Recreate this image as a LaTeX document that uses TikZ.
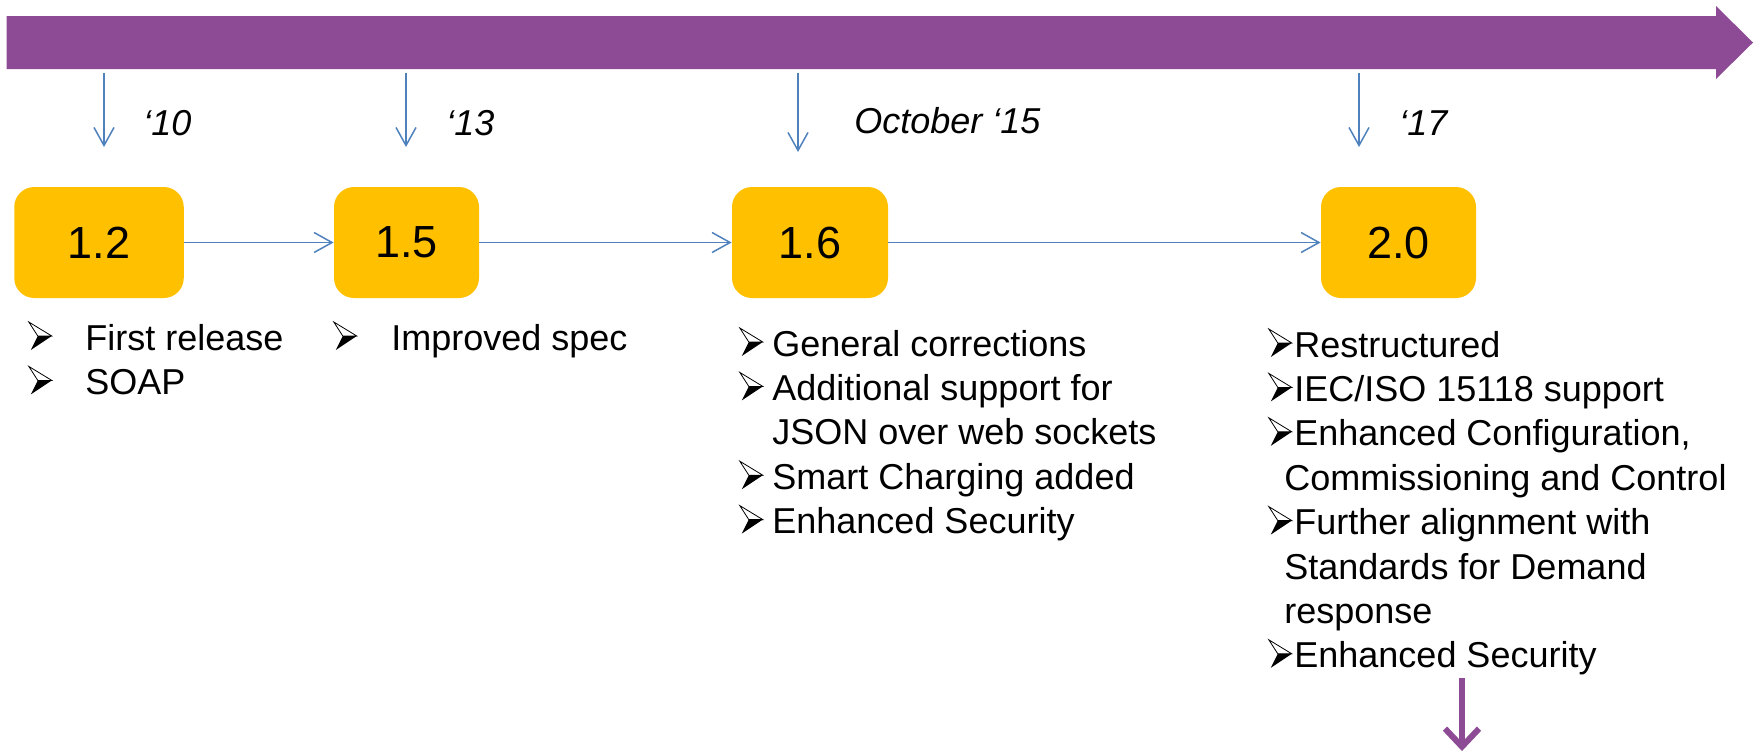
\documentclass[tikz,border=0pt]{standalone}
\usepackage{fontspec}
\setmainfont{Liberation Sans}
\usetikzlibrary{arrows.meta}
\definecolor{pourpre}{RGB}{141,75,149}
\definecolor{jaune}{RGB}{255,192,0}
\definecolor{bleu}{RGB}{79,129,189}
% puce en tete de chaque ligne de liste (pointe ombree)
\newcommand\puce[1]{\makebox[#1][l]{\tikz[x=1pt,y=1pt,line width=0.4pt,baseline=0pt]{%
  \filldraw[draw=black,fill=white] (0,14) -- (11.5,7) -- (4.5,7) -- cycle;
  \fill[black] (4.5,7) -- (11.5,7) -- (1,0) -- cycle;}}}

\begin{document}
\begin{tikzpicture}[x=0.5pt,y=-0.5pt]
% Styles (MODIFIABLES)
\tikzstyle{fleche}=[-{Straight Barb[length=9pt,width=10pt]},line width=0.75pt,draw=bleu]
\tikzstyle{version}=[fill=jaune,rounded corners=10pt,minimum height=55.5pt,inner sep=0pt,font=\fontsize{22.5pt}{27pt}\selectfont]
\tikzstyle{date}=[anchor=base west,inner sep=0pt,font=\itshape\fontsize{18pt}{22pt}\selectfont]
\tikzstyle{liste}=[anchor=base west,inner sep=0pt,font=\fontsize{18pt}{22.2pt}\selectfont]
\useasboundingbox (0,0) rectangle (1762,752);
% Axe du temps
\fill[pourpre] (6.5,16) -- (1716,16) -- (1716,6) -- (1753,42.5) -- (1716,79) -- (1716,69) -- (6.5,69) -- cycle;
% Versions
\node[version,minimum width=84.75pt] (V12) at (99,242.5) {1.2};
\node[version,minimum width=72.5pt] (V15) at (406.5,242.5) {1.5};
\node[version,minimum width=78pt] (V16) at (810,242.5) {1.6};
\node[version,minimum width=77.5pt] (V20) at (1398.5,242.5) {2.0};
% Dates
\node[date] (D10) at (143,135) {‘10};
\node[date] (D13) at (446,135) {‘13};
\node[date] (D15) at (854,133) {October ‘15};
\node[date] (D17) at (1399,135) {‘17};
% Reperes sous l'axe
\foreach \x/\y/\n in {104/147/a,406/147/b,798/152/c,1359/147/d}{
  \coordinate (H\n) at (\x,73);
  \coordinate (B\n) at (\x,\y);
  \draw[fleche] (H\n) -- (B\n);
}
% Arcs
\draw[fleche] (V12) -- (V15);
\draw[fleche] (V15) -- (V16);
\draw[fleche] (V16) -- (V20);
% Listes
\node[liste] (L12) at (28,350) {\begin{tabular}[t]{@{}l@{}}
  \puce{28.5pt}First release\\
  \puce{28.5pt}SOAP
\end{tabular}};
\node[liste] (L15) at (333,350) {\puce{29pt}Improved spec};
\node[liste] (L16) at (739,356) {\begin{tabular}[t]{@{}l@{}}
  \puce{16.5pt}General corrections\\
  \puce{16.5pt}Additional support for\\
  \hspace*{16.5pt}JSON over web sockets\\
  \puce{16.5pt}Smart Charging added\\
  \puce{16.5pt}Enhanced Security
\end{tabular}};
\node[liste] (L20) at (1268,357) {\begin{tabular}[t]{@{}l@{}}
  \puce{13pt}Restructured\\
  \puce{13pt}IEC/ISO 15118 support\\
  \puce{13pt}Enhanced Configuration,\\
  \hspace*{8pt}Commissioning and Control\\
  \puce{13pt}Further alignment with\\
  \hspace*{8pt}Standards for Demand\\
  \hspace*{8pt}response\\
  \puce{13pt}Enhanced Security
\end{tabular}};
% Suite
\coordinate (S1) at (1462,678);
\coordinate (S2) at (1462,751);
\draw[pourpre,line width=3pt,-{Straight Barb[length=9pt,width=17pt]}] (S1) -- (S2);
\end{tikzpicture}
\end{document}
